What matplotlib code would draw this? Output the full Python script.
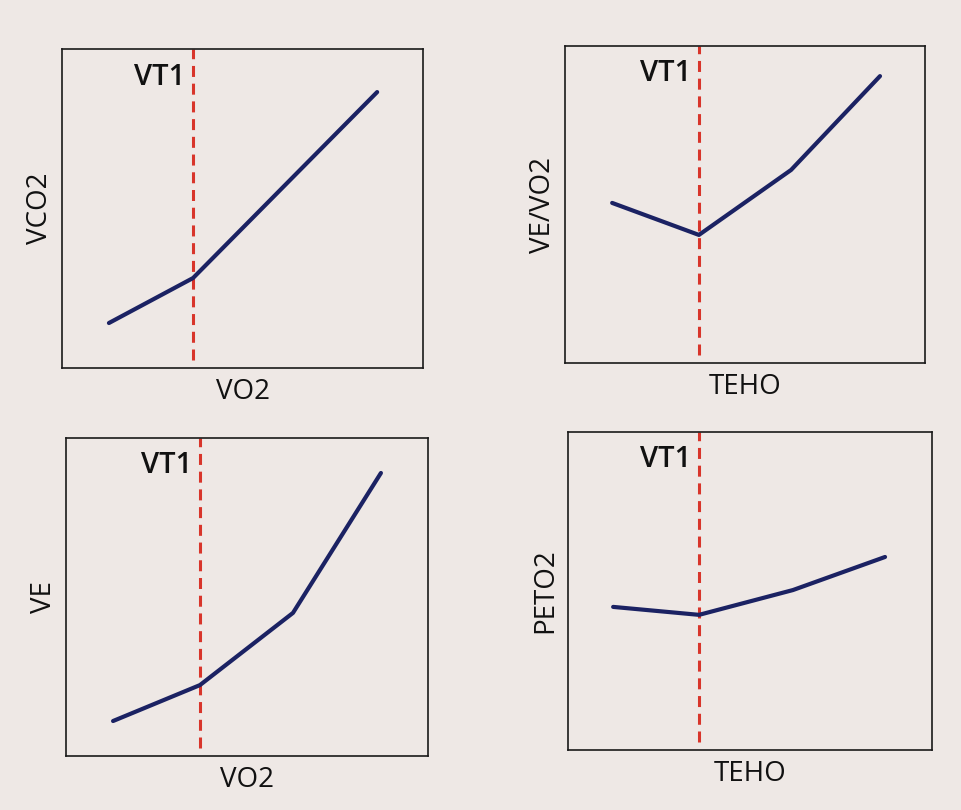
import matplotlib
matplotlib.use("Agg")
import matplotlib.pyplot as plt

plt.rcParams['font.family'] = ['Open Sans', 'DejaVu Sans']

W, H = 961, 810
BG = '#eee8e5'
NAVY = '#1b2263'
RED = '#d8352b'

# Four panels: axis labels, threshold position and curve points (unit axes)
x_labels = ["VO2", "TEHO", "VO2", "TEHO"]
y_labels = ["VCO2", "VE/VO2", "VE", "PETO2"]
vt1_x = [0.363, 0.372, 0.370, 0.360]

vco2_x = [0.13, 0.363, 0.873]
vco2_y = [0.141, 0.282, 0.865]

veo2_x = [0.131, 0.372, 0.628, 0.875]
veo2_y = [0.505, 0.404, 0.609, 0.905]

ve_x = [0.13, 0.370, 0.627, 0.870]
ve_y = [0.11, 0.223, 0.45, 0.89]

peto2_x = [0.124, 0.360, 0.618, 0.871]
peto2_y = [0.45, 0.425, 0.503, 0.607]

curves = [(vco2_x, vco2_y), (veo2_x, veo2_y), (ve_x, ve_y), (peto2_x, peto2_y)]

# Panel boxes in pixels: left, top, right, bottom
boxes = [(62, 49, 423, 368), (565, 46, 925, 363),
         (66, 438, 428, 756), (568, 432, 932, 750)]

fig = plt.figure(figsize=(W / 100, H / 100), dpi=100)
fig.patch.set_facecolor(BG)

for (l, t, r, b), xl, yl, vt, (cx, cy) in zip(boxes, x_labels, y_labels, vt1_x, curves):
    ax = fig.add_axes([l / W, 1 - b / H, (r - l) / W, (b - t) / H])
    ax.set_facecolor(BG)
    ax.set_xlim(0, 1)
    ax.set_ylim(0, 1)
    ax.set_xticks([])
    ax.set_yticks([])
    for s in ax.spines.values():
        s.set_linewidth(1.2)
        s.set_color('#1a1a1a')
    ax.axvline(vt, ymin=0.025, ymax=1.0, color=RED, lw=2.2,
               linestyle=(0, (3.6, 2.2)), zorder=2)
    ax.plot(cx, cy, color=NAVY, lw=3.0, solid_capstyle='round',
            solid_joinstyle='round', zorder=3)
    ax.text(vt - 0.022, 0.912, "VT1", ha='right', va='center',
            fontsize=21, fontweight='semibold', color='#111111')
    ax.set_xlabel(xl, fontsize=20, color='#111111', labelpad=7)
    ax.set_ylabel(yl, fontsize=20, color='#111111', labelpad=6)

fig.savefig("out.png", dpi=100, facecolor=BG)
